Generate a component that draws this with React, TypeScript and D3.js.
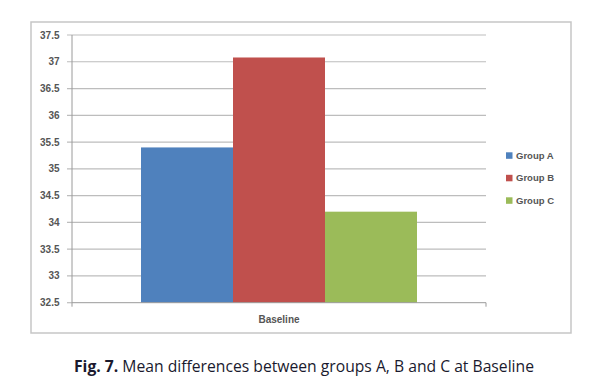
import React from "react";
import { scaleLinear, scaleBand, range } from "d3";

// chart data
const categories = ["Baseline"];
const groups = ["Group A", "Group B", "Group C"];
const groupValues = [35.4, 37.08, 34.2];
const groupColors = ["#4f81bd", "#c0504d", "#9bbb59"];
const yTicks = [32.5, 33, 33.5, 34, 34.5, 35, 35.5, 36, 36.5, 37, 37.5];
const captionBold = "Fig. 7.";
const captionText = " Mean differences between groups A, B and C at Baseline";

export default function App() {
  const width = 609;
  const height = 392;
  const plot = { left: 72, right: 486, top: 35, bottom: 302.7 };

  const yScale = scaleLinear()
    .domain([32.5, 37.5])
    .range([plot.bottom, plot.top]);

  // outer band for the category, inner band for the groups (excel gap width 150%)
  const xCat = scaleBand()
    .domain(categories)
    .range([plot.left, plot.right]);
  const barW = xCat.bandwidth() / 4.5;
  const xGroup = scaleBand()
    .domain(groups)
    .range([0, barW * 3]);
  const groupOffset = (xCat.bandwidth() - barW * 3) / 2;

  const axisFont = "'Liberation Sans', Arial, sans-serif";

  return (
    <svg
      width={width}
      height={height}
      style={{ position: "absolute", left: 0, top: 0, background: "#fff" }}
    >
      {/* outer frame */}
      <rect x={31} y={22} width={540} height={311} fill="#fff" stroke="#c6c6c6" strokeWidth={1.5} />

      {/* gridlines */}
      {yTicks.map(t => (
        <line
          key={"g" + t}
          x1={plot.left - 5}
          x2={t === 32.5 ? plot.left : plot.right}
          y1={yScale(t)}
          y2={yScale(t)}
          stroke="#bdbdbd"
          strokeWidth={1.2}
        />
      ))}

      {/* bars */}
      {categories.map(c =>
        groups.map((g, i) => (
          <rect
            key={c + g}
            x={(xCat(c) ?? 0) + groupOffset + (xGroup(g) ?? 0)}
            y={yScale(groupValues[i])}
            width={xGroup.bandwidth()}
            height={plot.bottom - yScale(groupValues[i])}
            fill={groupColors[i]}
          />
        ))
      )}

      {/* y axis */}
      <line x1={plot.left} x2={plot.left} y1={plot.top} y2={plot.bottom} stroke="#9a9a9a" strokeWidth={1} />
      {yTicks.map(t => (
        <text
          key={"t" + t}
          x={59.5}
          y={yScale(t)}
          dy="0.35em"
          textAnchor="end"
          fontFamily={axisFont}
          fontWeight="bold"
          fontSize={10}
          fill="#555"
        >
          {t}
        </text>
      ))}

      {/* x axis */}
      <line x1={plot.left} x2={plot.right} y1={plot.bottom} y2={plot.bottom} stroke="#9a9a9a" strokeWidth={1} />
      {[plot.left, plot.right].map(x => (
        <line key={"xt" + x} x1={x} x2={x} y1={plot.bottom} y2={plot.bottom + 4} stroke="#9a9a9a" />
      ))}
      {categories.map(c => (
        <text
          key={c}
          x={(xCat(c) ?? 0) + xCat.bandwidth() / 2}
          y={322.5}
          textAnchor="middle"
          fontFamily={axisFont}
          fontWeight="bold"
          fontSize={10}
          fill="#555"
        >
          {c}
        </text>
      ))}

      {/* legend */}
      {range(groups.length).map(i => (
        <g key={"l" + i} transform={`translate(506, ${155.5 + i * 22.5})`}>
          <rect x={0} y={-3.2} width={6.5} height={6.5} fill={groupColors[i]} />
          <text x={10} y={0} dy="0.35em" fontFamily={axisFont} fontWeight="bold" fontSize={9.5} fill="#555">
            {groups[i]}
          </text>
        </g>
      ))}

      {/* caption */}
      <text
        x={304}
        y={372}
        textAnchor="middle"
        fontFamily="'Open Sans', 'Noto Sans', sans-serif"
        fontSize={15.7}
        fill="#1a1a2e"
      >
        <tspan fontWeight="bold">{captionBold}</tspan>
        <tspan>{captionText}</tspan>
      </text>
    </svg>
  );
}
